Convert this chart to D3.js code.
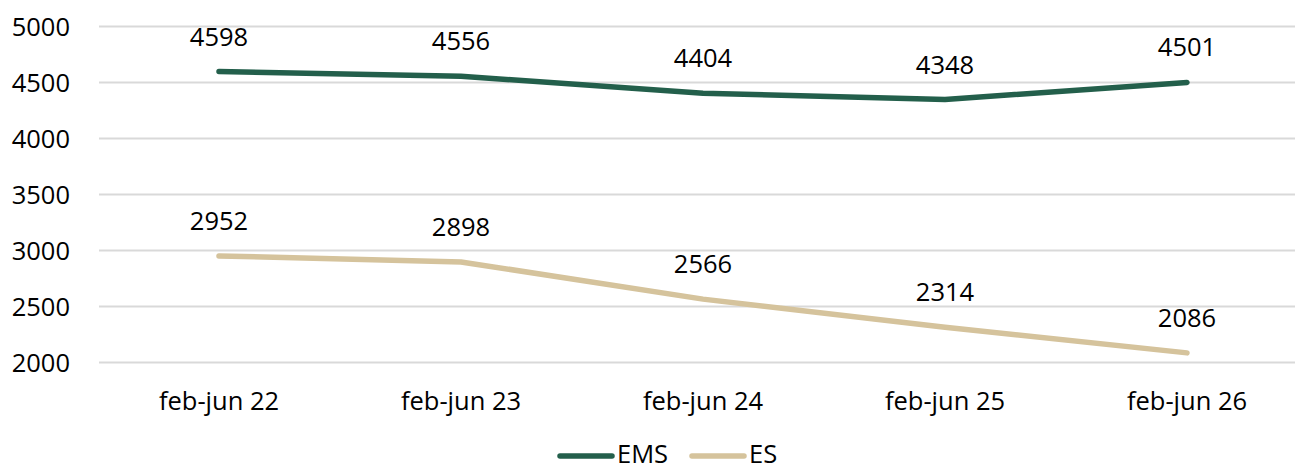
<!DOCTYPE html>
<html>
<head>
<meta charset="utf-8">
<script src="https://cdn.jsdelivr.net/npm/d3@7"></script>
<style>
  body { margin: 0; background: #fff; }
  svg text { font-family: "Open Sans", "Noto Sans", sans-serif; fill: #000; }
</style>
</head>
<body>
<svg width="1295" height="471"></svg>
<script>
var categories = ["feb-jun 22", "feb-jun 23", "feb-jun 24", "feb-jun 25", "feb-jun 26"];
var emsValues = [4598, 4556, 4404, 4348, 4501];
var esValues = [2952, 2898, 2566, 2314, 2086];
var yTicks = [2000, 2500, 3000, 3500, 4000, 4500, 5000];

var series = [
  { name: "EMS", values: emsValues, color: "#235f4b" },
  { name: "ES", values: esValues, color: "#d5c39c" }
];

var svg = d3.select("svg");
var fs = "25.5px";

var x = d3.scalePoint().domain(categories).range([98, 1308]).padding(0.5);
var y = d3.scaleLinear().domain([2000, 5000]).range([362.5, 26.5]);

// grid
svg.append("g").selectAll("line")
  .data(yTicks)
  .enter().append("line")
  .attr("x1", 99).attr("x2", 1295)
  .attr("y1", function(d) { return y(d); })
  .attr("y2", function(d) { return y(d); })
  .style("stroke", "#d9d9d9")
  .style("stroke-width", 2);

// y axis labels
svg.append("g").selectAll("text")
  .data(yTicks)
  .enter().append("text")
  .attr("x", 70)
  .attr("y", function(d) { return y(d) + 9; })
  .attr("text-anchor", "end")
  .style("font-size", fs)
  .text(function(d) { return d; });

// x axis labels
svg.append("g").selectAll("text")
  .data(categories)
  .enter().append("text")
  .attr("x", function(d) { return x(d); })
  .attr("y", 410)
  .attr("text-anchor", "middle")
  .style("font-size", fs)
  .text(function(d) { return d; });

var line = d3.line()
  .x(function(d, i) { return x(categories[i]); })
  .y(function(d) { return y(d); });

series.forEach(function(s) {
  svg.append("path")
    .datum(s.values)
    .attr("d", line)
    .style("fill", "none")
    .style("stroke", s.color)
    .style("stroke-width", 5.5)
    .style("stroke-linecap", "round")
    .style("stroke-linejoin", "round");

  svg.append("g").selectAll("text")
    .data(s.values)
    .enter().append("text")
    .attr("x", function(d, i) { return x(categories[i]); })
    .attr("y", function(d) { return y(d) - 26; })
    .attr("text-anchor", "middle")
    .style("font-size", fs)
    .text(function(d) { return d; });
});

// legend (kept just inside the bottom edge)
var legendItems = [
  { name: "EMS", color: "#235f4b", x: 560 },
  { name: "ES", color: "#d5c39c", x: 692 }
];
var lg = svg.append("g");
legendItems.forEach(function(it) {
  lg.append("line")
    .attr("x1", it.x).attr("x2", it.x + 52)
    .attr("y1", 456).attr("y2", 456)
    .style("stroke", it.color)
    .style("stroke-width", 5.5)
    .style("stroke-linecap", "round");
  lg.append("text")
    .attr("x", it.x + 57)
    .attr("y", 463)
    .style("font-size", fs)
    .text(it.name);
});
</script>
</body>
</html>
